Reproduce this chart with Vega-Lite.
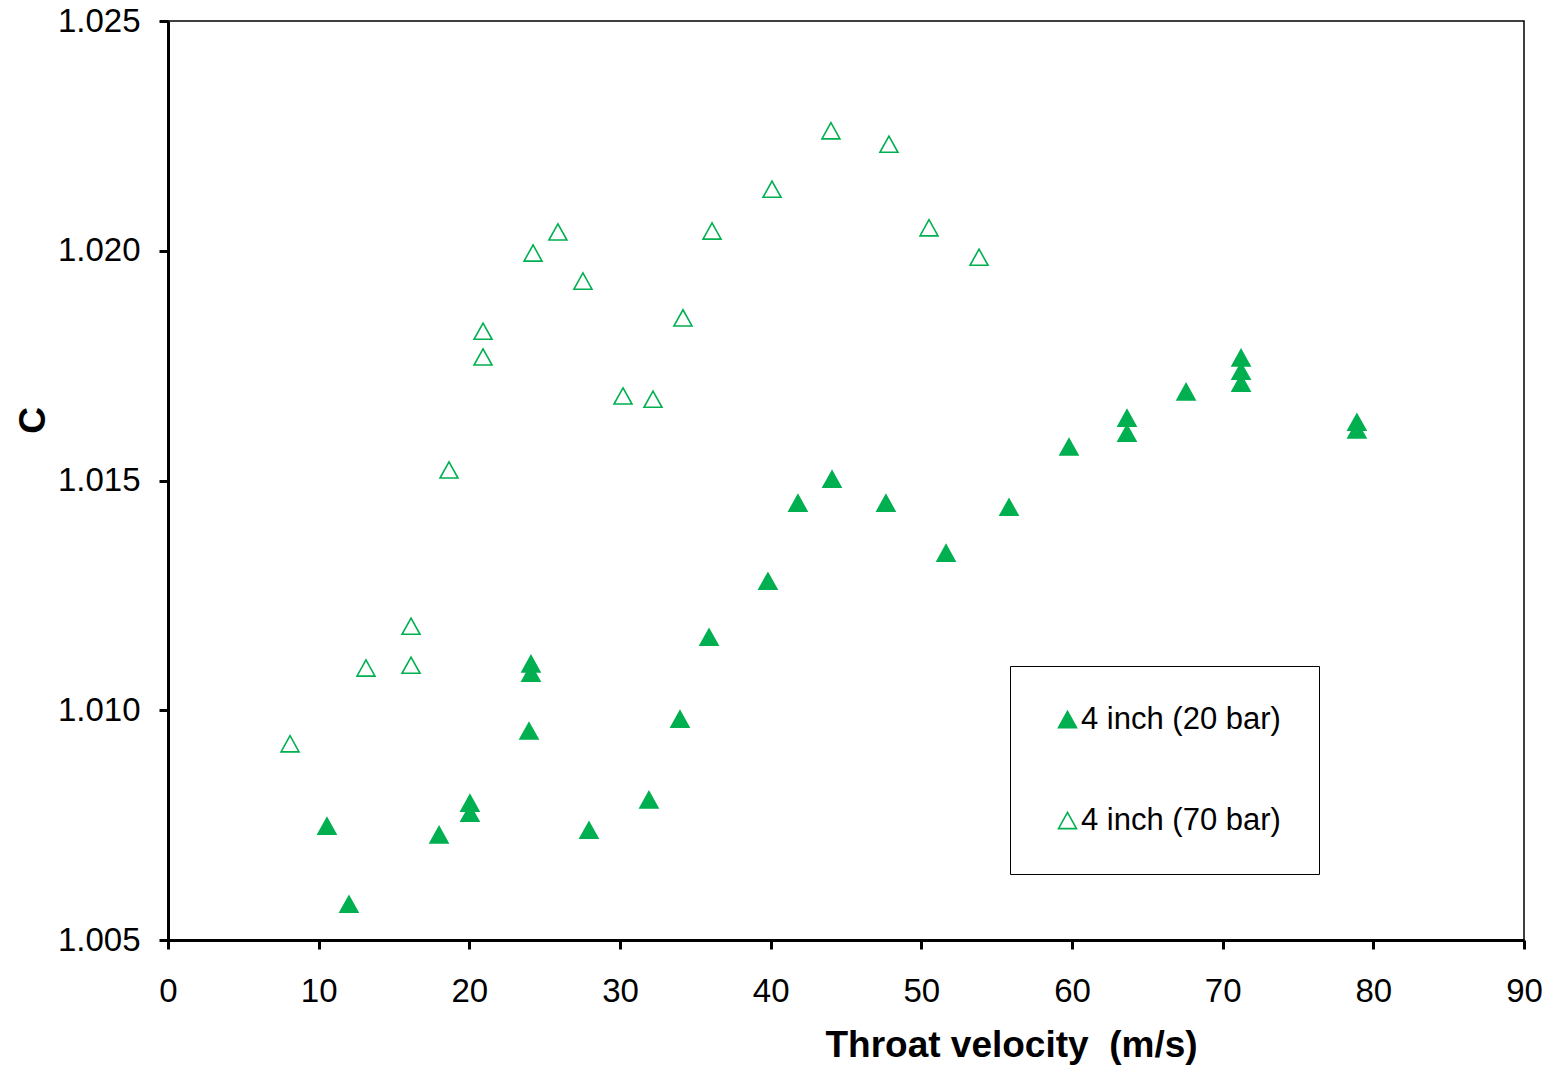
{
  "$schema": "https://vega.github.io/schema/vega-lite/v6.json",
  "width": 1356,
  "height": 919,
  "autosize": {"type": "none"},
  "padding": {"left": 168, "top": 21, "right": 27, "bottom": 128},
  "background": "white",
  "config": {
    "view": {"stroke": "black", "strokeWidth": 1.5},
    "font": "Liberation Sans",
    "axis": {
      "grid": false,
      "domainColor": "black",
      "domainWidth": 3,
      "tickColor": "black",
      "tickWidth": 3,
      "labelColor": "black",
      "labelFont": "Liberation Sans",
      "labelFontSize": 33,
      "labelFlush": false,
      "titleColor": "black",
      "titleFont": "Liberation Sans",
      "titleFontWeight": "bold",
      "titleFontSize": 37
    }
  },
  "datasets": {
    "bar20": [
      {"v": 10.55, "c": 1.00748, "series": "4 inch (20 bar)"},
      {"v": 12.01, "c": 1.00578, "series": "4 inch (20 bar)"},
      {"v": 17.99, "c": 1.00729, "series": "4 inch (20 bar)"},
      {"v": 20.04, "c": 1.00798, "series": "4 inch (20 bar)"},
      {"v": 20.04, "c": 1.00776, "series": "4 inch (20 bar)"},
      {"v": 24.09, "c": 1.01101, "series": "4 inch (20 bar)"},
      {"v": 24.09, "c": 1.01081, "series": "4 inch (20 bar)"},
      {"v": 23.96, "c": 1.00955, "series": "4 inch (20 bar)"},
      {"v": 27.94, "c": 1.00739, "series": "4 inch (20 bar)"},
      {"v": 31.92, "c": 1.00805, "series": "4 inch (20 bar)"},
      {"v": 33.98, "c": 1.00981, "series": "4 inch (20 bar)"},
      {"v": 35.91, "c": 1.01159, "series": "4 inch (20 bar)"},
      {"v": 39.82, "c": 1.01281, "series": "4 inch (20 bar)"},
      {"v": 41.81, "c": 1.01451, "series": "4 inch (20 bar)"},
      {"v": 44.07, "c": 1.01503, "series": "4 inch (20 bar)"},
      {"v": 47.65, "c": 1.01451, "series": "4 inch (20 bar)"},
      {"v": 51.64, "c": 1.01342, "series": "4 inch (20 bar)"},
      {"v": 55.82, "c": 1.01442, "series": "4 inch (20 bar)"},
      {"v": 59.80, "c": 1.01573, "series": "4 inch (20 bar)"},
      {"v": 63.65, "c": 1.01636, "series": "4 inch (20 bar)"},
      {"v": 63.65, "c": 1.01603, "series": "4 inch (20 bar)"},
      {"v": 67.57, "c": 1.01693, "series": "4 inch (20 bar)"},
      {"v": 71.22, "c": 1.01767, "series": "4 inch (20 bar)"},
      {"v": 71.22, "c": 1.01738, "series": "4 inch (20 bar)"},
      {"v": 71.22, "c": 1.01712, "series": "4 inch (20 bar)"},
      {"v": 78.91, "c": 1.01627, "series": "4 inch (20 bar)"},
      {"v": 78.91, "c": 1.01610, "series": "4 inch (20 bar)"}
    ],
    "bar70": [
      {"v": 8.10, "c": 1.00927, "series": "4 inch (70 bar)"},
      {"v": 13.14, "c": 1.01092, "series": "4 inch (70 bar)"},
      {"v": 16.13, "c": 1.01183, "series": "4 inch (70 bar)"},
      {"v": 16.13, "c": 1.01098, "series": "4 inch (70 bar)"},
      {"v": 18.65, "c": 1.01523, "series": "4 inch (70 bar)"},
      {"v": 20.91, "c": 1.01825, "series": "4 inch (70 bar)"},
      {"v": 20.91, "c": 1.01769, "series": "4 inch (70 bar)"},
      {"v": 24.23, "c": 1.01995, "series": "4 inch (70 bar)"},
      {"v": 25.88, "c": 1.02041, "series": "4 inch (70 bar)"},
      {"v": 27.54, "c": 1.01934, "series": "4 inch (70 bar)"},
      {"v": 30.20, "c": 1.01684, "series": "4 inch (70 bar)"},
      {"v": 32.19, "c": 1.01677, "series": "4 inch (70 bar)"},
      {"v": 34.18, "c": 1.01854, "series": "4 inch (70 bar)"},
      {"v": 36.11, "c": 1.02043, "series": "4 inch (70 bar)"},
      {"v": 40.09, "c": 1.02134, "series": "4 inch (70 bar)"},
      {"v": 44.00, "c": 1.02261, "series": "4 inch (70 bar)"},
      {"v": 47.85, "c": 1.02232, "series": "4 inch (70 bar)"},
      {"v": 50.51, "c": 1.02050, "series": "4 inch (70 bar)"},
      {"v": 53.83, "c": 1.01986, "series": "4 inch (70 bar)"}
    ]
  },
  "encoding": {
    "x": {"field": "v", "type": "quantitative", "scale": {"domain": [0, 90], "nice": false, "zero": false},
      "axis": {"orient": "bottom", "values": [0,10,20,30,40,50,60,70,80,90], "tickSize": 9, "labelPadding": 26,
        "title": "Throat velocity\u00a0\u00a0(m/s)", "titleX": 843, "titleY": 116, "titleBaseline": "alphabetic", "titleAlign": "center"}},
    "y": {"field": "c", "type": "quantitative", "scale": {"domain": [1.005, 1.025], "nice": false, "zero": false},
      "axis": {"orient": "left", "values": [1.005, 1.01, 1.015, 1.02, 1.025], "format": ".3f", "tickSize": 9, "labelPadding": 19,
        "title": "C", "titleX": -124, "titleY": 399, "titleAngle": 270, "titleBaseline": "alphabetic", "titleAlign": "center"}},
    "fill": {"field": "series", "type": "nominal",
      "scale": {"domain": ["4 inch (20 bar)", "4 inch (70 bar)"], "range": ["#00B050", "white"]},
      "legend": {"title": null, "orient": "none", "legendX": 842, "legendY": 645,
        "strokeColor": "black", "fillColor": "white", "padding": 38,
        "symbolType": "M0,-0.9L-1,0.9L1,0.9Z", "symbolSize": 324, "symbolStrokeColor": "#00B050", "symbolStrokeWidth": 1.6,
        "symbolOffset": 4, "labelOffset": -2, "labelFontSize": 31, "labelColor": "black", "labelFont": "Liberation Sans",
        "rowPadding": 69, "labelLimit": 400,
        "encode": {"legend": {"update": {"strokeWidth": {"value": 1.5}}}}}}
  },
  "layer": [
    {
      "data": {"name": "bar70"},
      "mark": {"type": "point", "shape": "M0,-0.9L-1,0.9L1,0.9Z", "size": 324, "stroke": "#00B050", "strokeWidth": 1.6, "opacity": 1, "filled": true}
    },
    {
      "data": {"name": "bar20"},
      "mark": {"type": "point", "shape": "M0,-0.9L-1,0.9L1,0.9Z", "size": 324, "stroke": "#00B050", "strokeWidth": 1.6, "opacity": 1, "filled": true}
    }
  ]
}
